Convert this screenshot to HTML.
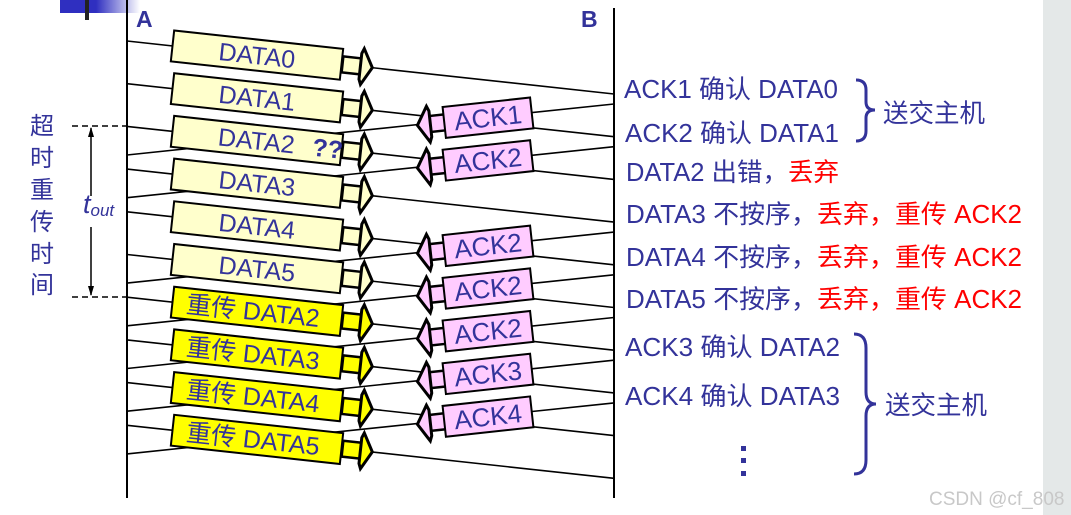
<!DOCTYPE html>
<html><head><meta charset="utf-8"><style>
html,body{margin:0;padding:0;background:#fff;}
svg{display:block;}
.t{font-family:"Liberation Sans","Noto Sans CJK SC",sans-serif;fill:#33339a;}
.r{fill:#ff0000;}
</style></head><body>
<svg width="1071" height="515" viewBox="0 0 1071 515" xmlns="http://www.w3.org/2000/svg">
<defs>
<linearGradient id="bg" x1="0" x2="1" y1="0" y2="0">
<stop offset="0" stop-color="#2f2fc0"/><stop offset="0.45" stop-color="#2f2fc0"/><stop offset="1" stop-color="#ffffff"/>
</linearGradient>
<g id="darr">
<rect x="86" y="-8" width="22" height="16" fill="currentColor" stroke="#000" stroke-width="2.5"/>
<polygon points="106,-18 116,0 106,18 104,13 104,-13" fill="currentColor" stroke="#000" stroke-width="3" stroke-linejoin="miter"/>
<rect x="-85" y="-15.5" width="170" height="31" fill="currentColor" stroke="#000" stroke-width="2"/>
</g>
<g id="aarr">
<rect x="-62" y="-8" width="20" height="16" fill="#ffccff" stroke="#000" stroke-width="2.5"/>
<polygon points="-60,-18 -71,0 -60,18 -58,13 -58,-13" fill="#ffccff" stroke="#000" stroke-width="3"/>
<rect x="-44" y="-15.5" width="88" height="31" fill="#ffccff" stroke="#000" stroke-width="2"/>
</g>
</defs>
<rect x="1043" y="0" width="28" height="515" fill="#e4e8e8"/>
<rect x="60" y="0" width="80" height="13" fill="url(#bg)"/>
<rect x="85" y="0" width="4" height="20" fill="#222"/>
<line x1="127" y1="0" x2="127" y2="498" stroke="#000" stroke-width="2"/>
<line x1="614" y1="8" x2="614" y2="498" stroke="#000" stroke-width="2"/>
<text x="136" y="27" class="t" style="font-size:23px;font-weight:bold">A</text>
<text x="581" y="27" class="t" style="font-size:23px;font-weight:bold">B</text>

<g stroke="#000" stroke-width="1.6" fill="none">
<line x1="127" y1="41" x2="614" y2="94"/>
<line x1="127" y1="83.7" x2="614" y2="136.7"/>
<line x1="127" y1="126.4" x2="614" y2="179.4"/>
<line x1="127" y1="169.1" x2="614" y2="222.1"/>
<line x1="127" y1="211.8" x2="614" y2="264.8"/>
<line x1="127" y1="254.5" x2="614" y2="307.5"/>
<line x1="127" y1="297.2" x2="614" y2="350.2"/>
<line x1="127" y1="339.9" x2="614" y2="392.9"/>
<line x1="127" y1="382.6" x2="614" y2="435.6"/>
<line x1="127" y1="425.3" x2="614" y2="478.3"/>
<line x1="614" y1="104" x2="127" y2="155"/>
<line x1="614" y1="146.7" x2="127" y2="197.7"/>
<line x1="614" y1="232.1" x2="127" y2="283.1"/>
<line x1="614" y1="274.8" x2="127" y2="325.8"/>
<line x1="614" y1="317.5" x2="127" y2="368.5"/>
<line x1="614" y1="360.2" x2="127" y2="411.2"/>
<line x1="614" y1="402.9" x2="127" y2="453.9"/>
</g>

<g class="t" style="font-size:25px">
<g transform="translate(257,55.1) rotate(6.2)" color="#ffffcc"><use href="#darr"/><text x="0" y="9" text-anchor="middle" class="t">DATA0</text></g>
<g transform="translate(257,97.8) rotate(6.2)" color="#ffffcc"><use href="#darr"/><text x="0" y="9" text-anchor="middle" class="t">DATA1</text></g>
<g transform="translate(257,140.5) rotate(6.2)" color="#ffffcc"><use href="#darr"/><text x="-39" y="9" class="t">DATA2<tspan style="font-weight:bold" dx="18">??</tspan></text></g>
<g transform="translate(257,183.2) rotate(6.2)" color="#ffffcc"><use href="#darr"/><text x="0" y="9" text-anchor="middle" class="t">DATA3</text></g>
<g transform="translate(257,225.9) rotate(6.2)" color="#ffffcc"><use href="#darr"/><text x="0" y="9" text-anchor="middle" class="t">DATA4</text></g>
<g transform="translate(257,268.6) rotate(6.2)" color="#ffffcc"><use href="#darr"/><text x="0" y="9" text-anchor="middle" class="t">DATA5</text></g>
<g transform="translate(257,311.3) rotate(6.2)" color="#ffff00"><use href="#darr"/><text x="-4" y="9" text-anchor="middle" class="t">重传 DATA2</text></g>
<g transform="translate(257,354) rotate(6.2)" color="#ffff00"><use href="#darr"/><text x="-4" y="9" text-anchor="middle" class="t">重传 DATA3</text></g>
<g transform="translate(257,396.7) rotate(6.2)" color="#ffff00"><use href="#darr"/><text x="-4" y="9" text-anchor="middle" class="t">重传 DATA4</text></g>
<g transform="translate(257,439.4) rotate(6.2)" color="#ffff00"><use href="#darr"/><text x="-4" y="9" text-anchor="middle" class="t">重传 DATA5</text></g>

<g transform="translate(488,117.7) rotate(-6.2)"><use href="#aarr"/><text x="0" y="9" text-anchor="middle" class="t" style="font-size:26px">ACK1</text></g>
<g transform="translate(488,160.4) rotate(-6.2)"><use href="#aarr"/><text x="0" y="9" text-anchor="middle" class="t" style="font-size:26px">ACK2</text></g>
<g transform="translate(488,245.8) rotate(-6.2)"><use href="#aarr"/><text x="0" y="9" text-anchor="middle" class="t" style="font-size:26px">ACK2</text></g>
<g transform="translate(488,288.5) rotate(-6.2)"><use href="#aarr"/><text x="0" y="9" text-anchor="middle" class="t" style="font-size:26px">ACK2</text></g>
<g transform="translate(488,331.2) rotate(-6.2)"><use href="#aarr"/><text x="0" y="9" text-anchor="middle" class="t" style="font-size:26px">ACK2</text></g>
<g transform="translate(488,373.9) rotate(-6.2)"><use href="#aarr"/><text x="0" y="9" text-anchor="middle" class="t" style="font-size:26px">ACK3</text></g>
<g transform="translate(488,416.6) rotate(-6.2)"><use href="#aarr"/><text x="0" y="9" text-anchor="middle" class="t" style="font-size:26px">ACK4</text></g>
</g>

<!-- left timeout -->
<g stroke="#000" stroke-width="1.6" stroke-dasharray="6,4">
<line x1="72" y1="126" x2="127" y2="126"/>
<line x1="72" y1="297" x2="127" y2="297"/>
</g>
<line x1="91" y1="128" x2="91" y2="196" stroke="#000" stroke-width="1.5"/>
<line x1="91" y1="227" x2="91" y2="295" stroke="#000" stroke-width="1.5"/>
<polygon points="91,127 88,137 94,137" fill="#000"/>
<polygon points="91,296 88,286 94,286" fill="#000"/>
<text x="83" y="213" class="t" style="font-size:27px;font-style:italic">t<tspan style="font-size:17px" dy="3">out</tspan></text>
<g class="t" style="font-size:24px" text-anchor="middle">
<text x="42" y="134">超</text><text x="42" y="166">时</text><text x="42" y="198">重</text>
<text x="42" y="230">传</text><text x="42" y="262">时</text><text x="42" y="293">间</text>
</g>

<!-- right text -->
<g class="t" style="font-size:25.5px">
<text x="624" y="98" textLength="214" lengthAdjust="spacingAndGlyphs">ACK1 确认 DATA0</text>
<text x="625" y="142" textLength="214" lengthAdjust="spacingAndGlyphs">ACK2 确认 DATA1</text>
<text x="626" y="181">DATA2 出错，<tspan class="r">丢弃</tspan></text>
<text x="626" y="223" textLength="396" lengthAdjust="spacingAndGlyphs">DATA3 不按序，<tspan class="r">丢弃，重传 ACK2</tspan></text>
<text x="626" y="266" textLength="396" lengthAdjust="spacingAndGlyphs">DATA4 不按序，<tspan class="r">丢弃，重传 ACK2</tspan></text>
<text x="626" y="308" textLength="396" lengthAdjust="spacingAndGlyphs">DATA5 不按序，<tspan class="r">丢弃，重传 ACK2</tspan></text>
<text x="625" y="356" textLength="215" lengthAdjust="spacingAndGlyphs">ACK3 确认 DATA2</text>
<text x="625" y="405" textLength="215" lengthAdjust="spacingAndGlyphs">ACK4 确认 DATA3</text>
<text x="883" y="122">送交主机</text>
<text x="885" y="414">送交主机</text>
</g>
<rect x="741" y="446" width="5" height="5" fill="#33339a"/>
<rect x="741" y="458" width="5" height="5" fill="#33339a"/>
<rect x="741" y="471" width="5" height="5" fill="#33339a"/>
<g fill="none" stroke="#33339a" stroke-width="3">
<path d="M856,80 Q866,80 866,90 L866,102 Q866,110 875,110 Q866,110 866,118 L866,131 Q866,141 856,141"/>
<path d="M854,334 Q866,334 866,348 L866,392 Q866,404 876,404 Q866,404 866,416 L866,460 Q866,474 854,474"/>
</g>
<text x="929" y="505" style="font-family:'Liberation Sans',sans-serif;font-size:19px" fill="#c8c8c8">CSDN @cf_808</text>
</svg>
</body></html>
